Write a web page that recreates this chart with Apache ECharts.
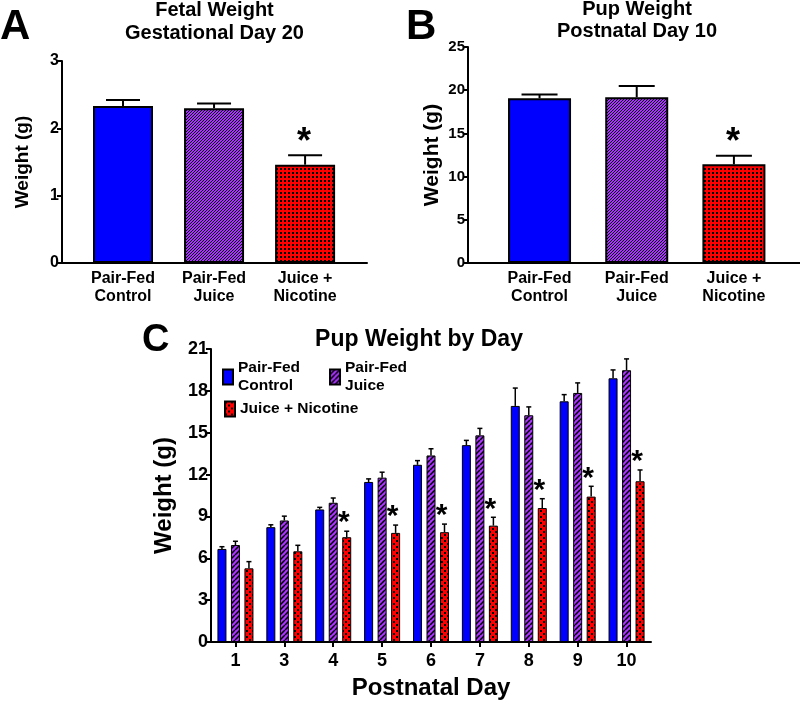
<!DOCTYPE html>
<html><head><meta charset="utf-8">
<script src="https://cdn.jsdelivr.net/npm/echarts@6/dist/echarts.min.js"></script>
<style>html,body{margin:0;padding:0;background:#fff}#c{width:800px;height:703px}</style>
</head><body><div id="c"></div>
<script>
// ---------- DATA ----------
const groups = ['Pair-Fed\nControl', 'Pair-Fed\nJuice', 'Juice +\nNicotine'];
const fetalMean = [2.33, 2.30, 1.46];
const fetalSem  = [0.09, 0.07, 0.14];
const fetalSig  = [false, false, true];
const pnd10Mean = [19.06, 19.18, 11.42];
const pnd10Sem  = [0.44, 1.32, 1.00];
const pnd10Sig  = [false, false, true];
const days = ['1', '3', '4', '5', '6', '7', '8', '9', '10'];
const legendNames = ['Pair-Fed\nControl', 'Pair-Fed\nJuice', 'Juice + Nicotine'];
const controlMean  = [6.67, 8.23, 9.50, 11.47, 12.70, 14.11, 16.92, 17.25, 18.90];
const controlSem   = [0.16, 0.17, 0.15, 0.22, 0.30, 0.34, 1.28, 0.48, 0.60];
const juiceMean    = [6.95, 8.71, 9.98, 11.78, 13.37, 14.81, 16.25, 17.85, 19.48];
const juiceSem     = [0.27, 0.31, 0.34, 0.39, 0.48, 0.50, 0.60, 0.72, 0.81];
const nicotineMean = [5.28, 6.50, 7.51, 7.82, 7.87, 8.34, 9.60, 10.42, 11.52];
const nicotineSem  = [0.48, 0.43, 0.43, 0.56, 0.58, 0.60, 0.67, 0.74, 0.81];
const nicotineSig  = [false, false, true, true, true, true, true, true, true];
const titleA = ['Fetal Weight', 'Gestational Day 20'];
const titleB = ['Pup Weight', 'Postnatal Day 10'];
const titleC = 'Pup Weight by Day';
const yNameAB = 'Weight (g)';
const xNameC = 'Postnatal Day';

// ---------- STYLE HELPERS ----------
const FONT = '"Liberation Sans", Arial, Helvetica, sans-serif';
function hatch(size, lw, bg) {
  const c = document.createElement('canvas'); c.width = c.height = size;
  const g = c.getContext('2d'); g.fillStyle = bg; g.fillRect(0, 0, size, size);
  g.strokeStyle = '#000'; g.lineWidth = lw; g.beginPath();
  for (const o of [-size, 0, size]) { g.moveTo(o, size); g.lineTo(o + size, 0); }
  g.stroke();
  return { image: c, repeat: 'repeat' };
}
function dots(size, d, checker) {
  const c = document.createElement('canvas'); c.width = c.height = size;
  const g = c.getContext('2d'); g.fillStyle = '#ff0000'; g.fillRect(0, 0, size, size);
  g.fillStyle = '#000'; g.fillRect(0, 0, d, d);
  if (checker) g.fillRect(size / 2, size / 2, d, d);
  return { image: c, repeat: 'repeat' };
}
const BLUE = '#0000ff', PURPLE = '#aa33ff';
const fillsAB = [BLUE, hatch(3, 1, PURPLE), dots(4, 2, false)];
const fillsC = [BLUE, hatch(5, 1.5, PURPLE), dots(6, 2, true)];

function errRender(capHalf, lw, offset) {
  return function (params, api) {
    const x = api.value(0), m = api.value(1), s = api.value(2);
    const p0 = api.coord([x, m]), p1 = api.coord([x, m + s]);
    const ox = p0[0] + offset;
    const st = { stroke: '#000', lineWidth: lw };
    return { type: 'group', children: [
      { type: 'line', shape: { x1: ox, y1: p0[1], x2: ox, y2: p1[1] }, style: st },
      { type: 'line', shape: { x1: ox - capHalf, y1: p1[1], x2: ox + capHalf, y2: p1[1] }, style: st }
    ]};
  };
}
function starRender(fs, gapPx, offset) {
  return function (params, api) {
    const p = api.coord([api.value(0), api.value(1)]);
    return { type: 'text', x: p[0] + offset, y: p[1] - gapPx,
      style: { text: '*', font: 'bold ' + fs + 'px ' + FONT, fill: '#000',
        textAlign: 'center', textVerticalAlign: 'middle', align: 'center', verticalAlign: 'middle' } };
  };
}
function gtext(text, x, y, size, align) {
  return { type: 'text', x: x, y: y, style: { text: text, font: 'bold ' + size + 'px ' + FONT, fill: '#000',
    textAlign: align || 'center', textVerticalAlign: 'middle', align: align || 'center', verticalAlign: 'middle' } };
}
const axisLine = { show: true, onZero: false, lineStyle: { color: '#000', width: 2 } };
const lbl = (fs, margin) => ({ color: '#000', fontWeight: 'bold', fontSize: fs, fontFamily: FONT, margin: margin });

// ---------- OPTION ----------
const option = {
  animation: false,
  backgroundColor: '#fff',
  textStyle: { fontFamily: FONT },
  grid: [
    { left: 62, top: 61, width: 305, height: 202 },
    { left: 468, top: 47, width: 332, height: 216 },
    { left: 211, top: 349, width: 440, height: 293 }
  ],
  xAxis: [
    { gridIndex: 0, type: 'value', min: -0.67, max: 2.68, axisLine: axisLine, axisTick: { show: false },
      splitLine: { show: false },
      axisLabel: Object.assign(lbl(16, 7), { customValues: [0, 1, 2], lineHeight: 18, formatter: v => groups[Math.round(v)] }) },
    { gridIndex: 1, type: 'value', min: -0.736, max: 2.68, axisLine: axisLine, axisTick: { show: false },
      splitLine: { show: false },
      axisLabel: Object.assign(lbl(16, 7), { customValues: [0, 1, 2], lineHeight: 18, formatter: v => groups[Math.round(v)] }) },
    { gridIndex: 2, type: 'category', data: days, boundaryGap: true, axisLine: axisLine,
      axisTick: { show: true, alignWithLabel: true, length: 5, lineStyle: { color: '#000', width: 2 } },
      axisLabel: lbl(18, 10),
      name: xNameC, nameLocation: 'middle', nameGap: 34,
      nameTextStyle: { color: '#000', fontWeight: 'bold', fontSize: 24, fontFamily: FONT } }
  ],
  yAxis: [
    { gridIndex: 0, type: 'value', min: 0, max: 3, interval: 1, axisLine: axisLine,
      axisTick: { show: true, length: 5, lineStyle: { color: '#000', width: 2 } }, splitLine: { show: false },
      axisLabel: lbl(16, 3),
      name: yNameAB, nameLocation: 'middle', nameGap: 30,
      nameTextStyle: { color: '#000', fontWeight: 'bold', fontSize: 19, fontFamily: FONT } },
    { gridIndex: 1, type: 'value', min: 0, max: 25, interval: 5, axisLine: axisLine,
      axisTick: { show: true, length: 5, lineStyle: { color: '#000', width: 2 } }, splitLine: { show: false },
      axisLabel: lbl(15, 3),
      name: yNameAB, nameLocation: 'middle', nameGap: 25,
      nameTextStyle: { color: '#000', fontWeight: 'bold', fontSize: 21, fontFamily: FONT } },
    { gridIndex: 2, type: 'value', min: 0, max: 21, interval: 3, axisLine: axisLine,
      axisTick: { show: true, length: 5, lineStyle: { color: '#000', width: 2 } }, splitLine: { show: false },
      axisLabel: lbl(18, 3),
      name: yNameAB, nameLocation: 'middle', nameGap: 35,
      nameTextStyle: { color: '#000', fontWeight: 'bold', fontSize: 24, fontFamily: FONT } }
  ],
  legend: [
    { data: [legendNames[0], legendNames[1]], left: 222, top: 359, padding: 0, itemWidth: 10, itemHeight: 15, itemGap: 29,
      icon: 'rect', textStyle: { color: '#000', fontWeight: 'bold', fontSize: 15.5, lineHeight: 18, fontFamily: FONT } },
    { data: [legendNames[2]], left: 224, top: 400, padding: 0, itemWidth: 10, itemHeight: 15,
      icon: 'rect', textStyle: { color: '#000', fontWeight: 'bold', fontSize: 15.5, lineHeight: 18, fontFamily: FONT } }
  ],
  graphic: [
    gtext('A', 0, 27, 42, 'left'),
    gtext('B', 406, 27, 42, 'left'),
    gtext('C', 142, 341, 38, 'left'),
    gtext(titleA[0], 214.5, 10, 20), gtext(titleA[1], 214.5, 33, 20),
    gtext(titleB[0], 637, 9, 20), gtext(titleB[1], 637, 31, 20),
    gtext(titleC, 419, 340, 23)
  ],
  series: [
    { type: 'bar', name: 'fetal', xAxisIndex: 0, yAxisIndex: 0, barWidth: 60,
      itemStyle: { borderColor: '#000', borderWidth: 2 },
      data: fetalMean.map((v, i) => ({ value: [i, v], itemStyle: { color: fillsAB[i] } })) },
    { type: 'custom', name: 'fetalErr', xAxisIndex: 0, yAxisIndex: 0, renderItem: errRender(17, 2, 0),
      data: fetalMean.map((v, i) => [i, v, fetalSem[i]]) },
    { type: 'custom', name: 'fetalSig', xAxisIndex: 0, yAxisIndex: 0, renderItem: starRender(36, 12, -1),
      data: fetalMean.map((v, i) => fetalSig[i] ? [i, v + fetalSem[i]] : null).filter(d => d) },

    { type: 'bar', name: 'pnd10', xAxisIndex: 1, yAxisIndex: 1, barWidth: 63,
      itemStyle: { borderColor: '#000', borderWidth: 2 },
      data: pnd10Mean.map((v, i) => ({ value: [i, v], itemStyle: { color: fillsAB[i] } })) },
    { type: 'custom', name: 'pnd10Err', xAxisIndex: 1, yAxisIndex: 1, renderItem: errRender(18, 2, 0),
      data: pnd10Mean.map((v, i) => [i, v, pnd10Sem[i]]) },
    { type: 'custom', name: 'pnd10Sig', xAxisIndex: 1, yAxisIndex: 1, renderItem: starRender(36, 13, -1),
      data: pnd10Mean.map((v, i) => pnd10Sig[i] ? [i, v + pnd10Sem[i]] : null).filter(d => d) },

    { type: 'bar', name: legendNames[0], xAxisIndex: 2, yAxisIndex: 2, barWidth: 9, barGap: '50%',
      itemStyle: { color: fillsC[0], borderColor: '#000', borderWidth: 1 }, data: controlMean },
    { type: 'bar', name: legendNames[1], xAxisIndex: 2, yAxisIndex: 2, barWidth: 9, barGap: '50%',
      itemStyle: { color: fillsC[1], borderColor: '#000', borderWidth: 1 }, data: juiceMean },
    { type: 'bar', name: legendNames[2], xAxisIndex: 2, yAxisIndex: 2, barWidth: 9, barGap: '50%',
      itemStyle: { color: fillsC[2], borderColor: '#000', borderWidth: 1 }, data: nicotineMean },
    { type: 'custom', name: 'cErr', xAxisIndex: 2, yAxisIndex: 2, renderItem: errRender(2.5, 1.5, -13.5),
      data: controlMean.map((v, i) => [i, v, controlSem[i]]) },
    { type: 'custom', name: 'jErr', xAxisIndex: 2, yAxisIndex: 2, renderItem: errRender(2.5, 1.5, 0),
      data: juiceMean.map((v, i) => [i, v, juiceSem[i]]) },
    { type: 'custom', name: 'nErr', xAxisIndex: 2, yAxisIndex: 2, renderItem: errRender(2.5, 1.5, 13.5),
      data: nicotineMean.map((v, i) => [i, v, nicotineSem[i]]) },
    { type: 'custom', name: 'nSig', xAxisIndex: 2, yAxisIndex: 2, renderItem: starRender(30, 8, 10.5),
      data: nicotineMean.map((v, i) => nicotineSig[i] ? [i, v + nicotineSem[i]] : null).filter(d => d) }
  ]
};
const chart = echarts.init(document.getElementById('c'), null, { renderer: 'canvas' });
chart.setOption(option);
</script></body></html>
